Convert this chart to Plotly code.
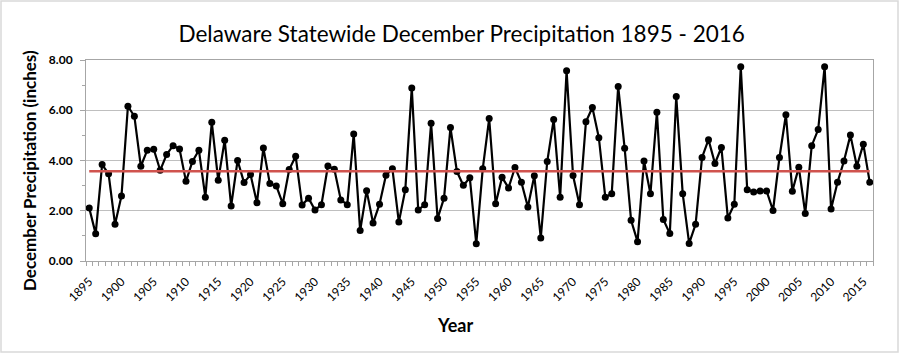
import plotly.graph_objects as go

years = list(range(1895, 2017))
precip = [
    2.11, 1.08, 3.84, 3.47, 1.46, 2.59, 6.16, 5.76, 3.77, 4.41,
    4.45, 3.61, 4.24, 4.59, 4.46, 3.17, 3.96, 4.41, 2.54, 5.52,
    3.21, 4.81, 2.19, 4.00, 3.12, 3.44, 2.32, 4.50, 3.08, 2.99,
    2.28, 3.64, 4.17, 2.23, 2.50, 2.03, 2.24, 3.78, 3.65, 2.43,
    2.24, 5.05, 1.21, 2.80, 1.51, 2.26, 3.41, 3.67, 1.55, 2.84,
    6.89, 2.03, 2.24, 5.48, 1.69, 2.50, 5.31, 3.56, 3.01, 3.31,
    0.69, 3.67, 5.67, 2.28, 3.33, 2.91, 3.72, 3.13, 2.15, 3.39,
    0.92, 3.96, 5.63, 2.54, 7.57, 3.40, 2.24, 5.54, 6.11, 4.91,
    2.54, 2.68, 6.95, 4.49, 1.62, 0.77, 3.98, 2.68, 5.92, 1.65,
    1.09, 6.55, 2.68, 0.70, 1.46, 4.12, 4.83, 3.88, 4.52, 1.71,
    2.26, 7.73, 2.84, 2.75, 2.79, 2.79, 2.01, 4.12, 5.82, 2.78,
    3.73, 1.89, 4.59, 5.23, 7.73, 2.07, 3.13, 3.98, 5.01, 3.77,
    4.65, 3.13,
]
mean_value = 3.57
mean_line = [mean_value] * len(years)
tick_years = list(range(1895, 2016, 5))
y_ticks = [0, 2, 4, 6, 8]

FONT = "Lato"
GRID = "#bfbfbf"
AXIS = "#a6a6a6"

fig = go.Figure()
fig.add_trace(go.Scatter(
    x=years, y=precip, mode="lines+markers",
    line=dict(color="black", width=2.2),
    marker=dict(color="black", size=7),
    showlegend=False, hoverinfo="x+y",
))
fig.add_trace(go.Scatter(
    x=years, y=mean_line, mode="lines",
    line=dict(color="#d0534e", width=2.5),
    showlegend=False,
))

fig.update_layout(
    width=900, height=354,
    margin=dict(l=86, r=27, t=60, b=93),
    paper_bgcolor="white", plot_bgcolor="white",
    font=dict(family=FONT, color="black"),
    title=dict(
        text="Delaware Statewide December Precipitation 1895 - 2016",
        x=0.513, xanchor="center", y=1 - 34 / 354, yanchor="middle",
        font=dict(family=FONT, size=22.5, color="black"),
    ),
    xaxis=dict(
        range=[1894.5, 2016.5],
        tickmode="array", tickvals=tick_years,
        ticktext=[str(t) for t in tick_years],
        tickangle=-45, ticks="", showgrid=False,
        ticklabelstandoff=8,
        showline=True, linecolor=AXIS, linewidth=1, mirror=True,
        tickfont=dict(family=FONT, size=12, color="black"),
        minor=dict(
            tickmode="array",
            tickvals=[y - 0.5 for y in years] + [years[-1] + 0.5],
            ticks="outside", ticklen=4, tickcolor=AXIS, showgrid=False,
        ),
        zeroline=False,
    ),
    yaxis=dict(
        range=[0, 8], tickmode="array", tickvals=y_ticks,
        tickformat=".2f", ticks="outside", ticklen=5, tickcolor=AXIS,
        ticklabelstandoff=5,
        showgrid=True, gridcolor=GRID, gridwidth=1.3,
        showline=True, linecolor=AXIS, linewidth=1, mirror=True,
        tickfont=dict(family=FONT, size=12, color="black", weight="bold"),
        minor=dict(dtick=1, tick0=0, ticks="outside", ticklen=3,
                   tickcolor=AXIS, showgrid=False),
        zeroline=False,
    ),
    annotations=[
        dict(text="<b>December Precipitation (inches)</b>", textangle=-90,
             xref="paper", yref="paper",
             x=(29 - 86) / 787, y=(261 - 171) / 201,
             xanchor="center", yanchor="middle", showarrow=False,
             font=dict(family=FONT, size=17, color="black")),
        dict(text="<b>Year</b>", xref="paper", yref="paper",
             x=(455 - 86) / 787, y=(261 - 325) / 201,
             xanchor="center", yanchor="middle", showarrow=False,
             font=dict(family=FONT, size=18, color="black")),
    ],
    shapes=[
        dict(type="rect", xref="paper", yref="paper",
             x0=(1 - 86) / 787, x1=(898 - 86) / 787,
             y0=(261 - 352) / 201, y1=(261 - 1) / 201,
             line=dict(color="#d9d9d9", width=1.5), layer="below"),
    ],
)

fig.write_html("out.html")
